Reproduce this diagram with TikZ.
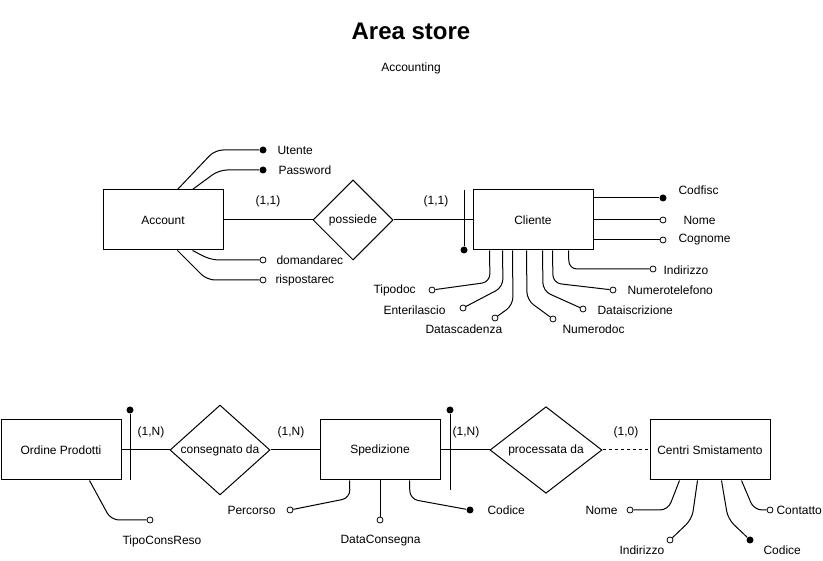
\documentclass[tikz,border=0pt]{standalone}
\usepackage{fontspec}
\setmainfont{Liberation Sans}
\usetikzlibrary{shapes.geometric,calc}

\begin{document}
\begin{tikzpicture}[x=1pt,y=-1pt,line width=1pt,font=\fontsize{12}{14}\selectfont]
  \tikzstyle{entity}=[draw,fill=white,minimum width=120,minimum height=60];
  \tikzstyle{relation}=[draw,diamond,fill=white,inner sep=0,minimum width=80,minimum height=80];
  \tikzstyle{key}=[circle,fill=black,inner sep=0,minimum size=7];
  \tikzstyle{attr}=[circle,draw,fill=white,inner sep=0,minimum size=6,line width=0.8pt];
  \tikzstyle{txt}=[inner sep=0,anchor=west];
  \tikzstyle{link}=[rounded corners=8];

  \useasboundingbox (0,0) rectangle (823,561);

  % title
  \node[font=\bfseries\fontsize{24}{28}\selectfont] (title) at (411,31) {Area store};
  \node (subtitle) at (411,68) {Accounting};

  % account - possiede - cliente
  \node[entity] (account) at (163,220) {Account};
  \node[relation] (possiede) at (353,220) {possiede};
  \node[entity] (cliente) at (533,220) {Cliente};
  \draw (account) -- (possiede) -- (cliente);
  \node (card1) at (268,201) {(1,1)};
  \node (card2) at (436,201) {(1,1)};
  \coordinate (clbartop) at (464,190);
  \node[key] (clbar) at (464,250) {};
  \draw (clbartop) -- (clbar);

  % account attributes
  \node[key] (utente) at (263,150) {};
  \node[key] (password) at (263,170) {};
  \node[attr] (domandarec) at (263,260) {};
  \node[attr] (rispostarec) at (263,280) {};
  \draw[link] ($(account.north west)+(75,0)$) -- (215,150) -- (utente);
  \draw[link] ($(account.north west)+(90,0)$) -- (219,170) -- (password);
  \draw[link] ($(account.south west)+(90,0)$) -- (211,260) -- (domandarec);
  \draw[link] ($(account.south west)+(75,0)$) -- (207,280) -- (rispostarec);
  \node[txt] (utente-t) at (277,150) {Utente};
  \node[txt] (password-t) at (278,170) {Password};
  \node[txt] (domandarec-t) at (276,260) {domandarec};
  \node[txt] (rispostarec-t) at (275,280) {rispostarec};

  % cliente attributes
  \node[key] (codfisc) at (663,198) {};
  \node[attr] (nome) at (663,220) {};
  \node[attr] (cognome) at (663,240) {};
  \draw (cliente.east |- codfisc) -- (codfisc);
  \draw (cliente.east |- nome) -- (nome);
  \draw (cliente.east |- cognome) -- (cognome);
  \node[attr] (indirizzo) at (653,269) {};
  \node[attr] (numtel) at (613,290) {};
  \node[attr] (dataiscr) at (583,309) {};
  \node[attr] (numerodoc) at (553,319) {};
  \node[attr] (datascad) at (495,318) {};
  \node[attr] (enteril) at (463,308) {};
  \node[attr] (tipodoc) at (432,290) {};
  \draw[link] ($(cliente.south west)+(96,0)$) -- (569,269) -- (indirizzo);
  \draw[link] ($(cliente.south west)+(80,0)$) -- (553,283) -- (numtel);
  \draw[link] ($(cliente.south west)+(70,0)$) -- (543,291) -- (dataiscr);
  \draw[link] ($(cliente.south west)+(54,0)$) -- (527,300) -- (numerodoc);
  \draw[link] ($(cliente.south west)+(40,0)$) -- (513,305) -- (datascad);
  \draw[link] ($(cliente.south west)+(30,0)$) -- (503,287) -- (enteril);
  \draw[link] ($(cliente.south west)+(17,0)$) -- (490,282) -- (tipodoc);
  \node[txt] (codfisc-t) at (678,190) {Codfisc};
  \node[txt] (nome-t) at (683,220) {Nome};
  \node[txt] (cognome-t) at (678,240) {Cognome};
  \node[txt] (indirizzo-t) at (663,270) {Indirizzo};
  \node[txt] (numtel-t) at (627,290) {Numerotelefono};
  \node[txt] (dataiscr-t) at (597,310) {Dataiscrizione};
  \node[txt] (numerodoc-t) at (562,329) {Numerodoc};
  \node[txt] (datascad-t) at (425,329) {Datascadenza};
  \node[txt] (enteril-t) at (383,310) {Enterilascio};
  \node[txt] (tipodoc-t) at (373,290) {Tipodoc};

  % ordine - consegnato da - spedizione - processata da - centri
  \node[entity] (ordine) at (61,450) {Ordine Prodotti};
  \node[relation,minimum width=100] (consegnato) at (220,450) {consegnato da};
  \node[entity] (spedizione) at (380,450) {Spedizione};
  \node[relation,minimum width=112] (processata) at (546,450) {processata da};
  \node[entity] (centri) at (710,450) {Centri Smistamento};
  \draw (ordine) -- (consegnato) -- (spedizione) -- (processata);
  \draw[dash pattern=on 3pt off 3pt] (processata) -- (centri);
  \coordinate (orbarbot) at (130,480);
  \node[key] (orbar) at (130,410) {};
  \draw (orbarbot) -- (orbar);
  \coordinate (spbarbot) at (450,490);
  \node[key] (spbar) at (450,410) {};
  \draw (spbarbot) -- (spbar);
  \node (card3) at (151,432) {(1,N)};
  \node (card4) at (291,432) {(1,N)};
  \node (card5) at (466,432) {(1,N)};
  \node (card6) at (626,432) {(1,0)};

  % ordine attributes
  \node[attr] (tipocons) at (150,520) {};
  \draw[link] ($(ordine.south west)+(89,0)$) -- (111,520) -- (tipocons);
  \node[txt] (tipocons-t) at (122,541) {TipoConsReso};

  % spedizione attributes
  \node[attr] (percorso) at (290,510) {};
  \node[attr] (dataconsegna) at (380,520) {};
  \node[key] (spcodice) at (470,510) {};
  \draw[link] ($(spedizione.south west)+(30,0)$) -- (350,498) -- (percorso);
  \draw (spedizione.south) -- (dataconsegna);
  \draw[link] ($(spedizione.south west)+(90,0)$) -- (410,499) -- (spcodice);
  \node[txt] (percorso-t) at (227,510) {Percorso};
  \node[txt] (dataconsegna-t) at (340,541) {DataConsegna};
  \node[txt] (spcodice-t) at (487,510) {Codice};

  % centri attributes
  \node[attr] (cenome) at (630,510) {};
  \node[attr] (ceindirizzo) at (670,540) {};
  \node[key] (cecodice) at (750,540) {};
  \node[attr] (cecontatto) at (770,510) {};
  \draw[link] ($(centri.south west)+(30,0)$) -- (668,510) -- (cenome);
  \draw[link] ($(centri.south west)+(48,0)$) -- (692,519) -- (ceindirizzo);
  \draw[link] ($(centri.south west)+(72,0)$) -- (728,519) -- (cecodice);
  \draw[link] ($(centri.south west)+(92,0)$) -- (754,510) -- (cecontatto);
  \node[txt] (cenome-t) at (585,510) {Nome};
  \node[txt] (ceindirizzo-t) at (619,550) {Indirizzo};
  \node[txt] (cecodice-t) at (763,550) {Codice};
  \node[txt] (cecontatto-t) at (776,510) {Contatto};
\end{tikzpicture}
\end{document}
